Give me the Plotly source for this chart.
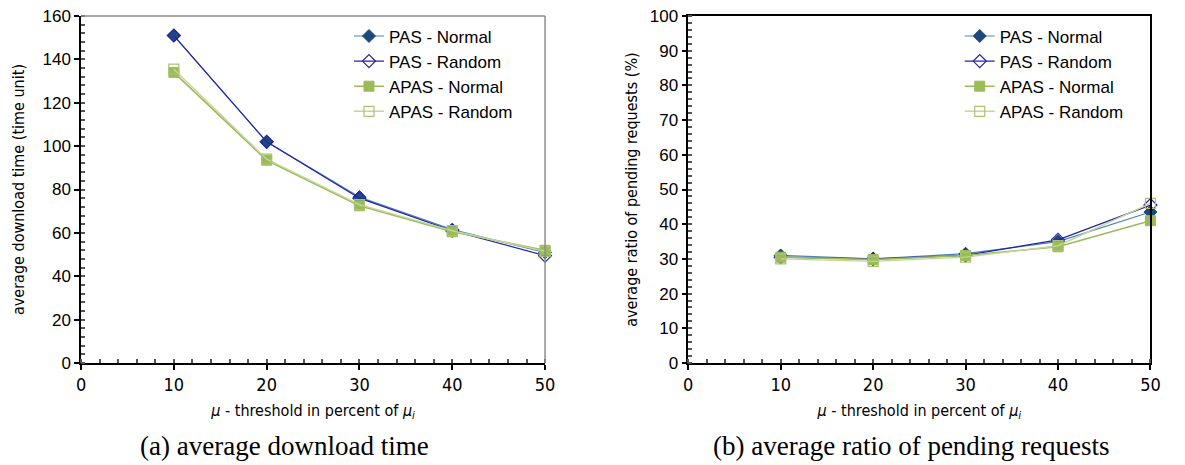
import plotly.graph_objects as go
from plotly.subplots import make_subplots

thresholds = [10, 20, 30, 40, 50]

# (a) average download time
dl_pas_normal = [151, 102, 76.5, 61.5, 51]
dl_pas_random = [151, 102, 76, 61, 49.5]
dl_apas_normal = [134, 93.5, 72.5, 60.5, 52]
dl_apas_random = [135.5, 94, 73, 61, 51.5]

# (b) average ratio of pending requests (%)
pr_pas_normal = [31, 30, 31.5, 35, 43.5]
pr_pas_random = [30.5, 30, 31, 35.5, 45.5]
pr_apas_normal = [30.5, 29.8, 31, 33.5, 41]
pr_apas_random = [30, 29.3, 30.5, 33.8, 46]

series_names = ["PAS - Normal", "PAS - Random", "APAS - Normal", "APAS - Random"]

styles = [
    dict(line=dict(color="#4F81BD", width=1.2),
         marker=dict(symbol="diamond", size=10, color="#1F497D", line=dict(color="#1F497D", width=1))),
    dict(line=dict(color="#2424A0", width=1.2),
         marker=dict(symbol="diamond-open", size=10, color="#2424A0", line=dict(width=1.2))),
    dict(line=dict(color="#9BBB59", width=1.6),
         marker=dict(symbol="square", size=10, color="#9BBB59", line=dict(color="#9BBB59", width=1))),
    dict(line=dict(color="#C3D69B", width=1.4),
         marker=dict(symbol="square-open", size=10, color="#A8C46F", line=dict(width=1.2))),
]

fig = make_subplots(rows=1, cols=2)

left_data = [dl_pas_normal, dl_pas_random, dl_apas_normal, dl_apas_random]
right_data = [pr_pas_normal, pr_pas_random, pr_apas_normal, pr_apas_random]

for name, ys, st in zip(series_names, left_data, styles):
    fig.add_trace(go.Scatter(x=thresholds, y=ys, mode="lines+markers", name=name,
                             legend="legend", cliponaxis=False, **st), row=1, col=1)
for name, ys, st in zip(series_names, right_data, styles):
    fig.add_trace(go.Scatter(x=thresholds, y=ys, mode="lines+markers", name=name,
                             legend="legend2", cliponaxis=False, **st), row=1, col=2)

tick_font = dict(family="Liberation Sans, Arial", size=17, color="#000")
xtick_font = dict(family="Liberation Sans Narrow, Arial Narrow, DejaVu Sans Condensed", size=18, color="#000")
title_font = dict(family="Liberation Sans Narrow, Arial Narrow, DejaVu Sans Condensed", size=16, color="#000")

xtitle = "<i>μ</i> - threshold in percent of <i>μ<sub>i</sub></i>"

common_x = dict(range=[0, 50], dtick=10, tick0=0, showgrid=False, zeroline=False,
                showline=True, linecolor="#000", linewidth=1.5,
                ticks="outside", ticklen=5, tickcolor="#000", tickwidth=1.5,
                minor=dict(dtick=2, ticks="inside", ticklen=4, tickcolor="#555", showgrid=False),
                tickfont=xtick_font, title=dict(text=xtitle, font=title_font, standoff=10))

fig.update_xaxes(domain=[0.065, 0.4616], **common_x, row=1, col=1)
fig.update_xaxes(domain=[0.584, 0.979], mirror=True, **common_x, row=1, col=2)

common_y = dict(showgrid=False, zeroline=False, showline=True, linecolor="#000", linewidth=1.5,
                ticks="outside", ticklen=5, tickcolor="#000", tickwidth=1.5,
                tickfont=tick_font)

fig.update_yaxes(range=[0, 160], dtick=20, tick0=0,
                 minor=dict(dtick=4, ticks="inside", ticklen=4, tickcolor="#555", showgrid=False),
                 title=dict(text="average download time (time unit)", font=title_font, standoff=14),
                 **common_y, row=1, col=1)
fig.update_yaxes(range=[0, 100], dtick=10, tick0=0, mirror=True,
                 minor=dict(dtick=2, ticks="inside", ticklen=4, tickcolor="#555", showgrid=False),
                 title=dict(text="average ratio of pending requests (%)", font=title_font, standoff=8),
                 **common_y, row=1, col=2)

# gray frame lines (top and right) for the left panel
fig.add_shape(type="line", xref="x domain", yref="y domain", x0=0, x1=1, y0=1, y1=1,
              line=dict(color="#8C8C8C", width=1.5))
fig.add_shape(type="line", xref="x domain", yref="y domain", x0=1, x1=1, y0=0, y1=1,
              line=dict(color="#8C8C8C", width=1.5))

legend_font = dict(family="Liberation Sans, Arial", size=17, color="#000")
fig.update_layout(
    width=1185, height=465,
    margin=dict(l=0, r=0, t=16, b=102),
    paper_bgcolor="white", plot_bgcolor="white",
    legend=dict(x=0.294, y=0.993, xanchor="left", yanchor="top", bgcolor="rgba(0,0,0,0)",
                font=legend_font, tracegroupgap=0, itemwidth=30),
    legend2=dict(x=0.816, y=0.993, xanchor="left", yanchor="top", bgcolor="rgba(0,0,0,0)",
                 font=legend_font, tracegroupgap=0, itemwidth=30),
    annotations=[
        dict(text="(a) average download time", xref="paper", yref="paper", x=0.239, y=-0.24,
             xanchor="center", yanchor="middle", showarrow=False,
             font=dict(family="Liberation Serif, Times New Roman", size=27, color="#000")),
        dict(text="(b) average ratio of pending requests", xref="paper", yref="paper", x=0.775, y=-0.24,
             xanchor="center", yanchor="middle", showarrow=False,
             font=dict(family="Liberation Serif, Times New Roman", size=27, color="#000")),
    ],
)

fig.write_html("out.html")
